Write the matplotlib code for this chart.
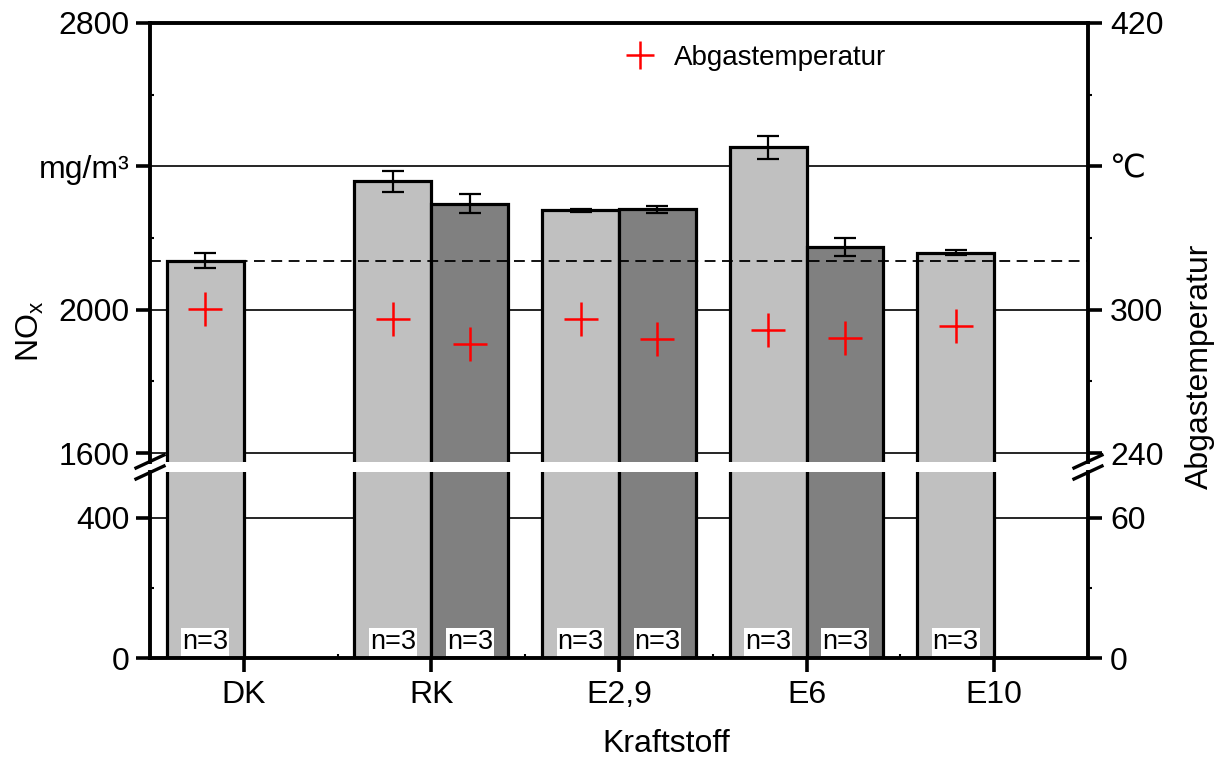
"""
NOx-Emission und Abgastemperatur je Kraftstoff, mit unterbrochener y-Achse.
"""

import numpy as np
import matplotlib
matplotlib.use('Agg')
import matplotlib.pyplot as plt
from matplotlib.ticker import FixedLocator, FixedFormatter
from matplotlib.lines import Line2D

# Daten
kraftstoffe = ['DK', 'RK', 'E2,9', 'E6', 'E10']
nox_hell = [2137, 2358, 2277, 2453, 2159]
nox_hell_err = [20, 30, 5, 33, 7]
nox_dunkel = [np.nan, 2296, 2280, 2175, np.nan]
nox_dunkel_err = [np.nan, 26, 10, 26, np.nan]
temp_hell = [300.1, 295.9, 296.0, 291.4, 293.1]
temp_dunkel = [np.nan, 285.7, 287.6, 288.2, np.nan]
n_hell = [3, 3, 3, 3, 3]
n_dunkel = [None, 3, 3, 3, None]

# Achsen: oben 1600..2800, unten 0..400, rechts = links * 0.15
ticks_oben = [1600, 2000, 2400, 2800]
labels_oben = ['1600', '2000', 'mg/m³', '2800']
ticks_unten = [0, 400]
ticks_temp_oben = [240, 300, 360, 420]
labels_temp_oben = ['240', '300', '℃', '420']
ticks_temp_unten = [0, 60]
faktor = 0.15

plt.rcParams['font.family'] = ['Liberation Sans', 'DejaVu Sans']
plt.rcParams['mathtext.fontset'] = 'custom'
plt.rcParams['mathtext.rm'] = 'Liberation Sans'

fig = plt.figure(figsize=(12.21, 7.6), dpi=100)
ax_o = fig.add_axes([0.12285, 0.39211, 0.7682, 0.57763])
ax_u = fig.add_axes([0.12285, 0.13421, 0.7682, 0.24474], sharex=ax_o)

x = np.arange(len(kraftstoffe))
w = 0.41
fs = 23

for ax in (ax_o, ax_u):
    ax.bar(x - w/2, nox_hell, w, color='#c0c0c0', edgecolor='black',
           linewidth=2.3, zorder=2)
    ax.bar(x + w/2, nox_dunkel, w, color='#808080', edgecolor='black',
           linewidth=2.3, zorder=2)
    ax.set_axisbelow(True)
    ax.yaxis.grid(True, color='black', linewidth=1.2)
    for s in ax.spines.values():
        s.set_linewidth(2.8)
    ax.tick_params(axis='y', which='major', direction='out', length=10,
                   width=2.6, labelsize=fs, pad=5)
    ax.tick_params(axis='y', which='minor', direction='in', length=3, width=1.5)

ax_o.errorbar(x - w/2, nox_hell, yerr=nox_hell_err, fmt='none', ecolor='black',
              elinewidth=1.6, capsize=8, capthick=1.6, zorder=3)
ax_o.errorbar(x + w/2, nox_dunkel, yerr=nox_dunkel_err, fmt='none', ecolor='black',
              elinewidth=1.6, capsize=8, capthick=1.6, zorder=3)
# Referenzlinie DK
ax_o.axhline(nox_hell[0], color='black', linestyle=(0, (6, 3.6)),
             linewidth=1.3, zorder=4)

ax_o.set_xlim(-0.5, len(kraftstoffe) - 0.5)
ax_o.set_ylim(1575, 2800)
ax_u.set_ylim(0, 531)

ax_o.spines['bottom'].set_visible(False)
ax_u.spines['top'].set_visible(False)

ax_o.yaxis.set_major_locator(FixedLocator(ticks_oben))
ax_o.yaxis.set_major_formatter(FixedFormatter(labels_oben))
ax_o.yaxis.set_minor_locator(FixedLocator([1800, 2200, 2600]))
ax_u.yaxis.set_major_locator(FixedLocator(ticks_unten))
ax_u.yaxis.set_minor_locator(FixedLocator([200]))

ax_o.tick_params(axis='x', which='both', bottom=False, labelbottom=False)
ax_u.set_xticks(x)
ax_u.set_xticklabels(kraftstoffe)
ax_u.set_xticks(x[:-1] + 0.5, minor=True)
ax_u.tick_params(axis='x', which='major', direction='out', length=10,
                 width=2.6, labelsize=fs, pad=6)
ax_u.tick_params(axis='x', which='minor', direction='in', length=3, width=1.5)

# n-Angaben unten in den Balken
for xi, n in zip(x - w/2, n_hell):
    if n:
        ax_u.annotate('n=%d' % n, xy=(xi, 0), xytext=(0, 2), textcoords='offset points',
                      ha='center', va='bottom', fontsize=19.5, zorder=5,
                      bbox=dict(facecolor='white', edgecolor='none', pad=0.5))
for xi, n in zip(x + w/2, n_dunkel):
    if n:
        ax_u.annotate('n=%d' % n, xy=(xi, 0), xytext=(0, 2), textcoords='offset points',
                      ha='center', va='bottom', fontsize=19.5, zorder=5,
                      bbox=dict(facecolor='white', edgecolor='none', pad=0.5))

# rechte Achsen: Abgastemperatur
t_o = ax_o.twinx()
t_u = ax_u.twinx()
t_o.set_ylim(ax_o.get_ylim()[0] * faktor, ax_o.get_ylim()[1] * faktor)
t_u.set_ylim(ax_u.get_ylim()[0] * faktor, ax_u.get_ylim()[1] * faktor)
for t in (t_o, t_u):
    for s in t.spines.values():
        s.set_visible(False)
    t.tick_params(axis='y', which='major', direction='out', length=10,
                  width=2.6, labelsize=fs, pad=6)
    t.tick_params(axis='y', which='minor', direction='out', length=3, width=1.5)
t_o.yaxis.set_major_locator(FixedLocator(ticks_temp_oben))
t_o.yaxis.set_major_formatter(FixedFormatter(labels_temp_oben))
t_o.yaxis.set_minor_locator(FixedLocator([270, 330, 390]))
t_u.yaxis.set_major_locator(FixedLocator(ticks_temp_unten))
t_u.yaxis.set_minor_locator(FixedLocator([30]))

t_o.plot(x - w/2, temp_hell, linestyle='none', marker='+', color='red',
         markersize=25, mew=1.8, label='Abgastemperatur', zorder=5)
t_o.plot(x + w/2, temp_dunkel, linestyle='none', marker='+', color='red',
         markersize=25, mew=1.8, zorder=5)
t_o.legend(loc='center left', bbox_to_anchor=(0.502, 0.92), frameon=False,
           fontsize=20, handlelength=1.4, handletextpad=0.5, borderpad=0,
           borderaxespad=0, markerscale=0.8)

# Achsenbruch-Markierungen
pos_o = ax_o.get_position()
pos_u = ax_u.get_position()
y_mitte = (pos_o.y0 + pos_u.y1) / 2
dx = 14 / 1221
dy = 6.5 / 760
abstand = 5.5 / 760
for xs in (pos_o.x0, pos_o.x1):
    for off in (abstand, -abstand):
        fig.add_artist(Line2D([xs - dx, xs + dx], [y_mitte + off - dy, y_mitte + off + dy],
                              color='black', linewidth=2.4))

# Beschriftungen
fig.text(30 / 1221, 1 - 331 / 760, r'NO$_\mathrm{x}$', rotation=90,
         ha='center', va='center', fontsize=fs)
fig.text(1200 / 1221, 1 - 366 / 760, 'Abgastemperatur', rotation=90,
         ha='center', va='center', fontsize=fs)
fig.text(666 / 1221, 1 - 744 / 760, 'Kraftstoff', ha='center', va='center',
         fontsize=fs)

fig.savefig('out.png', dpi=100)
